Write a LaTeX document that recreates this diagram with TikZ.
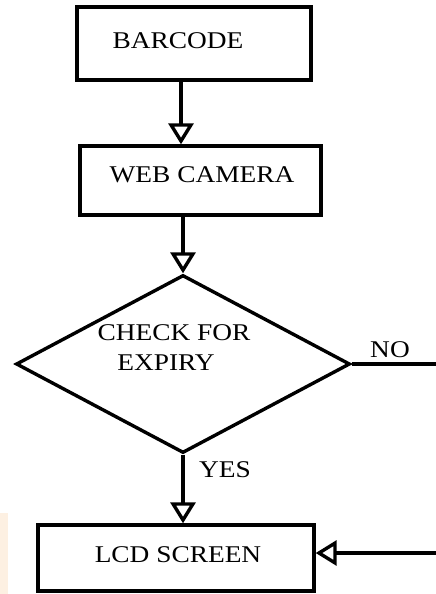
\documentclass[tikz,border=0pt]{standalone}
\usepackage{fontspec}
\setmainfont{Liberation Serif}
\newfontfamily\widefont[FakeStretch=1.14]{Liberation Serif}
\usetikzlibrary{arrows.meta,shapes.geometric}
\tikzset{
  box/.style={draw, line width=3.4pt, inner sep=0pt},
  lbl/.style={inner sep=0pt, font=\widefont\fontsize{24pt}{26pt}\selectfont},
  conn/.style={line width=3.4pt},
  arr/.style={line width=3.4pt, -{Triangle[open, length=21pt, width=25pt, line width=3.4pt]}}
}
\begin{document}
\begin{tikzpicture}[x=1pt, y=-1pt]
\useasboundingbox (0,0) rectangle (436,594);
% faint tint at lower left
\fill[color={rgb,255:red,253;green,240;blue,226}] (0,513) rectangle (8,594);

\node[box, minimum width=234pt, minimum height=73pt] (barcode) at (194,43.5) {};
\node[lbl] (tbar) at (178,41) {BARCODE};

\node[box, minimum width=241pt, minimum height=69pt] (webcam) at (200.5,180.5) {};
\node[lbl] (tweb) at (202,175) {WEB CAMERA};

\node[draw, diamond, line width=3.4pt, minimum width=334pt, minimum height=178pt, inner sep=0pt] (chk) at (183,364) {};
\node[lbl] (tchk1) at (174,333) {CHECK FOR};
\node[lbl] (tchk2) at (166,363) {EXPIRY};

\node[box, minimum width=276pt, minimum height=66pt] (lcd) at (176,558) {};
\node[lbl] (tlcd) at (178,555) {LCD SCREEN};

\node[lbl] (tno) at (390,350) {NO};
\node[lbl] (tyes) at (225,470) {YES};

\coordinate (x1) at (181,0);
\coordinate (noend) at (436,364);
\coordinate (backstart) at (436,553);

\draw[arr] (barcode.south -| x1) -- (webcam.north -| x1);
\draw[arr] (webcam.south -| chk.north) -- (chk.north);
\draw[arr] (chk.south) -- (chk.south |- lcd.north);
\draw[conn] (chk.east) -- (noend);
\draw[arr] (backstart) -- (backstart -| lcd.east);
\end{tikzpicture}
\end{document}
